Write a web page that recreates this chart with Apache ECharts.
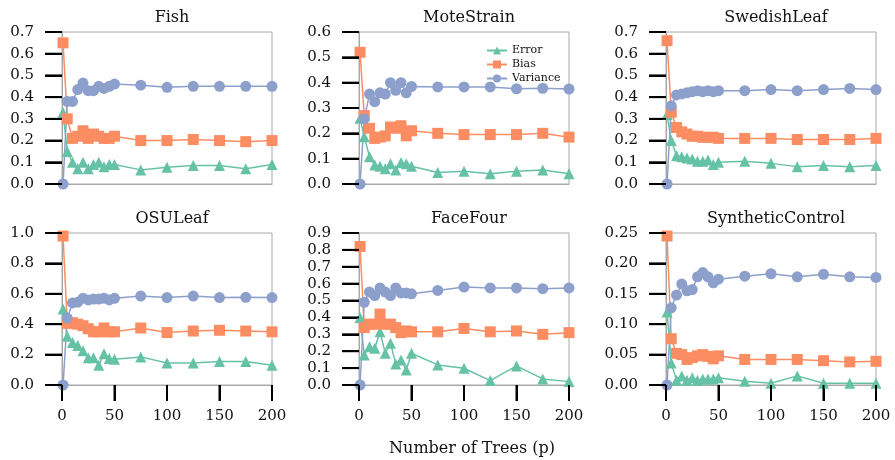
<!DOCTYPE html>
<html>
<head>
<meta charset="utf-8">
<script src="https://cdn.jsdelivr.net/npm/echarts@6/dist/echarts.min.js"></script>
</head>
<body style="margin:0;background:#fff">
<div id="chart" style="width:895px;height:460px"></div>
<script>
var trees = [1, 5, 10, 15, 20, 25, 30, 35, 40, 45, 50, 75, 100, 125, 150, 175, 200];
var xTicks = [0, 50, 100, 150, 200];
var datasetNames = ['Fish', 'MoteStrain', 'SwedishLeaf', 'OSULeaf', 'FaceFour', 'SyntheticControl'];

// Fish
var fishError    = [0.33, 0.15, 0.10, 0.07, 0.10, 0.07, 0.09, 0.10, 0.08, 0.09, 0.09, 0.065, 0.077, 0.085, 0.085, 0.07, 0.09];
var fishBias     = [0.65, 0.30, 0.21, 0.22, 0.245, 0.21, 0.23, 0.22, 0.21, 0.21, 0.22, 0.20, 0.20, 0.205, 0.20, 0.195, 0.20];
var fishVariance = [0.0, 0.38, 0.38, 0.435, 0.465, 0.43, 0.43, 0.45, 0.44, 0.45, 0.46, 0.455, 0.445, 0.45, 0.45, 0.45, 0.45];
// MoteStrain
var moteError    = [0.26, 0.187, 0.108, 0.075, 0.07, 0.06, 0.08, 0.055, 0.085, 0.08, 0.07, 0.045, 0.05, 0.04, 0.05, 0.055, 0.04];
var moteBias     = [0.52, 0.27, 0.22, 0.18, 0.185, 0.19, 0.225, 0.22, 0.23, 0.19, 0.21, 0.20, 0.195, 0.195, 0.195, 0.20, 0.185];
var moteVariance = [0.0, 0.257, 0.355, 0.325, 0.36, 0.355, 0.40, 0.37, 0.40, 0.36, 0.385, 0.383, 0.383, 0.383, 0.376, 0.378, 0.375];
// SwedishLeaf
var swedError    = [0.32, 0.20, 0.13, 0.125, 0.12, 0.115, 0.105, 0.105, 0.11, 0.09, 0.10, 0.105, 0.095, 0.08, 0.085, 0.08, 0.085];
var swedBias     = [0.66, 0.33, 0.26, 0.24, 0.23, 0.22, 0.22, 0.215, 0.215, 0.215, 0.21, 0.21, 0.21, 0.205, 0.205, 0.205, 0.21];
var swedVariance = [0.0, 0.36, 0.41, 0.415, 0.42, 0.425, 0.43, 0.425, 0.43, 0.425, 0.43, 0.43, 0.435, 0.43, 0.435, 0.44, 0.435];
// OSULeaf
var osuError    = [0.50, 0.32, 0.28, 0.26, 0.225, 0.18, 0.18, 0.13, 0.205, 0.175, 0.17, 0.185, 0.145, 0.145, 0.155, 0.155, 0.13];
var osuBias     = [0.98, 0.405, 0.41, 0.40, 0.39, 0.37, 0.35, 0.35, 0.375, 0.35, 0.35, 0.375, 0.345, 0.355, 0.36, 0.355, 0.35];
var osuVariance = [0.0, 0.44, 0.54, 0.545, 0.57, 0.56, 0.565, 0.565, 0.57, 0.56, 0.57, 0.585, 0.575, 0.585, 0.575, 0.577, 0.575];
// FaceFour
var faceError    = [0.40, 0.178, 0.227, 0.217, 0.316, 0.188, 0.247, 0.125, 0.148, 0.089, 0.188, 0.119, 0.099, 0.026, 0.113, 0.036, 0.02];
var faceBias     = [0.82, 0.34, 0.36, 0.36, 0.42, 0.36, 0.36, 0.34, 0.31, 0.32, 0.315, 0.315, 0.335, 0.315, 0.32, 0.30, 0.31];
var faceVariance = [0.0, 0.49, 0.55, 0.53, 0.575, 0.55, 0.53, 0.575, 0.545, 0.545, 0.54, 0.56, 0.58, 0.575, 0.575, 0.57, 0.575];
// SyntheticControl
var synError    = [0.12, 0.036, 0.008, 0.015, 0.008, 0.012, 0.008, 0.01, 0.01, 0.01, 0.012, 0.006, 0.003, 0.015, 0.003, 0.003, 0.003];
var synBias     = [0.245, 0.076, 0.052, 0.05, 0.042, 0.045, 0.048, 0.05, 0.047, 0.043, 0.048, 0.042, 0.042, 0.042, 0.04, 0.038, 0.039];
var synVariance = [0.0, 0.127, 0.148, 0.166, 0.155, 0.157, 0.178, 0.185, 0.178, 0.168, 0.174, 0.179, 0.183, 0.178, 0.182, 0.178, 0.177];

var errorSets    = [fishError, moteError, swedError, osuError, faceError, synError];
var biasSets     = [fishBias, moteBias, swedBias, osuBias, faceBias, synBias];
var varianceSets = [fishVariance, moteVariance, swedVariance, osuVariance, faceVariance, synVariance];

var yMax      = [0.7, 0.6, 0.7, 1.0, 0.9, 0.25];
var yInterval = [0.1, 0.1, 0.1, 0.2, 0.1, 0.05];
var yDigits   = [1, 1, 1, 1, 1, 2];

var colors = { Error: '#66c2a5', Bias: '#fc8d62', Variance: '#8da0cb' };
var fontFamily = '"DejaVu Serif", serif';

var gridLeft = [62, 359, 666];
var gridTop = [32, 233];
var gridW = 210, gridH = 152;

function pairs(vals) {
  var out = [];
  for (var i = 0; i < trees.length; i++) out.push([trees[i], vals[i]]);
  return out;
}

function yLabel(d) {
  return function (v) { return v.toFixed(d); };
}

var grids = [], xAxes = [], yAxes = [], titles = [], series = [];

for (var k = 0; k < 6; k++) {
  var row = Math.floor(k / 3), col = k % 3;
  var bottomRow = row === 1;
  grids.push({
    left: gridLeft[col], top: gridTop[row], width: gridW, height: gridH,
    show: true, borderColor: '#a8a8a8'
  });
  titles.push({
    text: datasetNames[k],
    left: gridLeft[col] + gridW / 2, top: gridTop[row] - 27,
    textAlign: 'center',
    textStyle: { fontFamily: fontFamily, fontSize: 16, fontWeight: 'normal', color: '#111' }
  });
  xAxes.push({
    gridIndex: k, type: 'value', min: 0, max: 200, interval: 50,
    splitLine: { show: false },
    axisLine: { show: true, lineStyle: { color: '#a8a8a8' } },
    axisTick: { show: bottomRow, length: 16, lineStyle: { color: '#000', width: 2 } },
    axisLabel: { show: bottomRow, margin: 24, fontFamily: fontFamily, fontSize: 15, color: '#111' }
  });
  yAxes.push({
    gridIndex: k, type: 'value', min: 0, max: yMax[k], interval: yInterval[k],
    splitLine: { show: false },
    axisLine: { show: true, lineStyle: { color: '#a8a8a8' } },
    axisTick: { show: true, length: 17, lineStyle: { color: '#000', width: 2 } },
    axisLabel: {
      margin: 28, fontFamily: fontFamily, fontSize: 15, color: '#111',
      formatter: yLabel(yDigits[k])
    }
  });

  var defs = [
    ['Error', errorSets[k], 'triangle'],
    ['Bias', biasSets[k], 'rect'],
    ['Variance', varianceSets[k], 'circle']
  ];
  defs.forEach(function (d) {
    series.push({
      name: d[0], type: 'line', xAxisIndex: k, yAxisIndex: k,
      data: pairs(d[1]),
      symbol: d[2], symbolSize: 11, showAllSymbol: true,
      lineStyle: { color: colors[d[0]], width: 1.5 },
      itemStyle: { color: colors[d[0]] }
    });
  });
}

titles.push({
  text: 'Number of Trees (p)',
  left: 467, top: 436, textAlign: 'center',
  textStyle: { fontFamily: fontFamily, fontSize: 16, fontWeight: 'normal', color: '#111' }
});

var chart = echarts.init(document.getElementById('chart'));
chart.setOption({
  animation: false,
  title: titles,
  legend: {
    data: ['Error', 'Bias', 'Variance'],
    orient: 'vertical',
    left: 481, top: 40,
    itemWidth: 20, itemHeight: 10, itemGap: 3,
    textStyle: { fontFamily: fontFamily, fontSize: 11, color: '#111' }
  },
  grid: grids,
  xAxis: xAxes,
  yAxis: yAxes,
  series: series
});

// extra tick marks placed through the axis scales, in case the built-in ones are hidden
var tickLines = [];
for (var g = 0; g < 6; g++) {
  var n = Math.round(yMax[g] / yInterval[g]);
  for (var t = 0; t <= n; t++) {
    var p = chart.convertToPixel({ gridIndex: g }, [0, t * yInterval[g]]);
    tickLines.push({ type: 'line', z: 100, shape: { x1: p[0] - 17, y1: p[1], x2: p[0], y2: p[1] }, style: { stroke: '#000', lineWidth: 2 } });
  }
  if (g >= 3) {
    xTicks.forEach(function (v) {
      var q = chart.convertToPixel({ gridIndex: g }, [v, 0]);
      tickLines.push({ type: 'line', z: 100, shape: { x1: q[0], y1: q[1], x2: q[0], y2: q[1] + 16 }, style: { stroke: '#000', lineWidth: 2 } });
    });
  }
}
chart.setOption({ graphic: tickLines });
</script>
</body>
</html>
